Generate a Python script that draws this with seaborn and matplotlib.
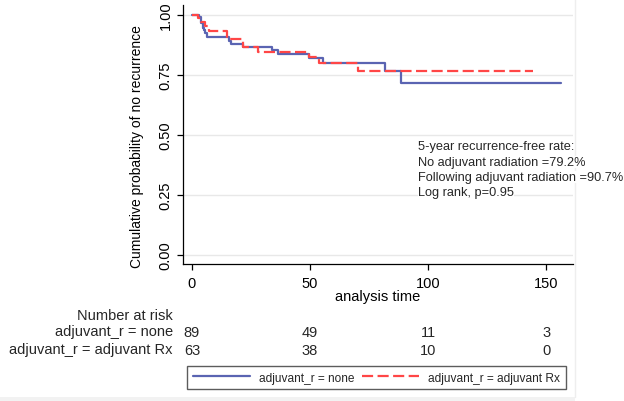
import matplotlib.pyplot as plt
import numpy as np
import pandas as pd
import seaborn as sns

# Kaplan-Meier steps (time, survival)
t_none = [0, 3.1, 3.8, 4.5, 5.0, 5.7, 6.4, 15.6, 16.4, 21.7, 33.8, 36.4, 49.6, 55.6, 81.8, 88.4, 156.4]
s_none = [1.0, 0.989, 0.967, 0.945, 0.934, 0.924, 0.905, 0.890, 0.879, 0.865, 0.851, 0.836, 0.818, 0.800, 0.767, 0.717, 0.717]
t_rx = [0, 2.7, 3.8, 5.5, 7.3, 14.7, 21.7, 28.1, 49.6, 53.9, 70.5, 144.6]
s_rx = [1.0, 0.984, 0.968, 0.952, 0.933, 0.898, 0.866, 0.843, 0.822, 0.797, 0.764, 0.764]

groups = ["adjuvant_r = none", "adjuvant_r = adjuvant Rx"]
risk_times = [0, 50, 100, 150]
risk_none = [89, 49, 11, 3]
risk_rx = [63, 38, 10, 0]
notes = ["5-year recurrence-free rate:",
         "No adjuvant radiation =79.2%",
         "Following adjuvant radiation =90.7%",
         "Log rank, p=0.95"]
yticks = [0, 0.25, 0.5, 0.75, 1.0]
xticks = [0, 50, 100, 150]

df = pd.concat([
    pd.DataFrame({"time": t_none, "surv": s_none, "group": groups[0]}),
    pd.DataFrame({"time": t_rx, "surv": s_rx, "group": groups[1]}),
])

sns.set_style("white")
plt.rcParams["font.family"] = ["Liberation Sans", "DejaVu Sans"]

fig = plt.figure(figsize=(6.24, 4.02), dpi=100)
ax = fig.add_axes([0.2928, 0.3408, 0.6255, 0.6443])

sns.lineplot(data=df, x="time", y="surv", hue="group", style="group",
             palette={groups[0]: "#5a64b2", groups[1]: "#ff4646"},
             dashes={groups[0]: "", groups[1]: (5, 2)},
             estimator=None, drawstyle="steps-post", lw=1.6,
             legend=False, ax=ax)

ax.set_xlim(-3.9, 161.4)
ax.set_ylim(-0.0374, 1.04)
ax.set_xticks(xticks)
ax.set_yticks(yticks)
ax.set_yticklabels([f"{v:.2f}" for v in yticks], rotation=90, va="center")
ax.yaxis.grid(True, color="#e8e8e8", lw=1)
ax.set_axisbelow(True)
sns.despine(ax=ax)
for s in ["left", "bottom"]:
    ax.spines[s].set_color("black")
    ax.spines[s].set_linewidth(0.9)
ax.tick_params(bottom=True, left=True, length=4.3, width=0.9, color="black",
               direction="out", labelsize=10.5, labelcolor="black")
ax.tick_params(axis="x", pad=4)
ax.tick_params(axis="y", pad=3)

ax.set_xlabel("analysis time", fontsize=10.5, color="black")
ax.set_ylabel("Cumulative probability of no recurrence", fontsize=10, color="black")
ax.xaxis.set_label_coords(0.5, -0.098)
ax.yaxis.set_label_coords(-0.10, 0.4575)

# annotation block
for i, line in enumerate(notes):
    fig.text(0.670, 0.6336 - i * 0.0381, line, fontsize=9.2, va="center", ha="left",
             bbox=dict(facecolor="white", edgecolor="none", pad=0))

# number at risk table
tr = ax.get_xaxis_transform()
fig.text(0.2772, 0.2150, "Number at risk", fontsize=10.5, ha="right", va="center")
fig.text(0.2772, 0.1730, groups[0], fontsize=10.5, ha="right", va="center")
fig.text(0.2772, 0.1290, groups[1], fontsize=10.5, ha="right", va="center")
for t, n1, n2 in zip(risk_times, risk_none, risk_rx):
    ax.text(t, -0.2625, str(n1), transform=tr, fontsize=10.5, ha="center", va="center", clip_on=False)
    ax.text(t, -0.3308, str(n2), transform=tr, fontsize=10.5, ha="center", va="center", clip_on=False)

leg = fig.legend(handles=ax.lines[:2], labels=groups, ncol=2, mode="expand",
                 loc="lower left", bbox_to_anchor=(0.300, 0.0299, 0.6064, 0.064),
                 frameon=True, fancybox=False, edgecolor="#333333", fontsize=8.6,
                 handlelength=4.8, handletextpad=0.75, borderaxespad=0,
                 borderpad=0.45)
leg.get_frame().set_linewidth(1)

# faint graph-region edge
fig.add_artist(plt.Line2D([575 / 624] * 2, [4 / 402, 1], transform=fig.transFigure,
                          color="#eeeeee", lw=1))
fig.add_artist(plt.Rectangle((0, 0), 575 / 624, 4 / 402, transform=fig.transFigure,
                             color="#f2f2f2", lw=0))

fig.savefig("out.png", dpi=100)
